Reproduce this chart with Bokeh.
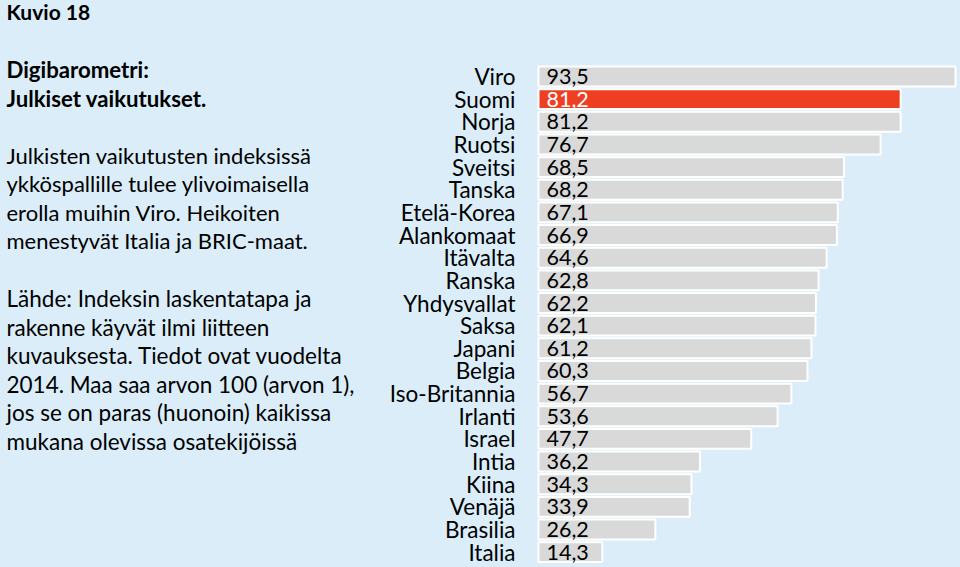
from bokeh.plotting import figure
from bokeh.models import ColumnDataSource, Range1d, Label, GlobalInlineStyleSheet
from bokeh.core.properties import value
from bokeh.embed import file_html
from bokeh.resources import INLINE

countries = ["Viro", "Suomi", "Norja", "Ruotsi", "Sveitsi", "Tanska", "Etelä-Korea",
             "Alankomaat", "Itävalta", "Ranska", "Yhdysvallat", "Saksa", "Japani",
             "Belgia", "Iso-Britannia", "Irlanti", "Israel", "Intia", "Kiina",
             "Venäjä", "Brasilia", "Italia"]
values = [93.5, 81.2, 81.2, 76.7, 68.5, 68.2, 67.1, 66.9, 64.6, 62.8, 62.2, 62.1,
          61.2, 60.3, 56.7, 53.6, 47.7, 36.2, 34.3, 33.9, 26.2, 14.3]
highlight = "Suomi"

title_text = "Kuvio 18"
subtitle_lines = ["Digibarometri:", "Julkiset vaikutukset."]
para1_lines = ["Julkisten vaikutusten indeksissä",
               "ykköspallille tulee ylivoimaisella",
               "erolla muihin Viro. Heikoiten",
               "menestyvät Italia ja BRIC-maat."]
para2_lines = ["Lähde: Indeksin laskentatapa ja",
               "rakenne käyvät ilmi liitteen",
               "kuvauksesta. Tiedot ovat vuodelta",
               "2014. Maa saa arvon 100 (arvon 1),",
               "jos se on paras (huonoin) kaikissa",
               "mukana olevissa osatekijöissä"]

BG = "#daedf8"
W, H = 960, 567
FONT = "Lato"

s = 4.46        # px per unit
x0 = 538        # px of zero
row = 22.65
first = 76

src = ColumnDataSource(dict(
    y=list(range(len(countries))),
    name=countries,
    value=values,
    label=[f"{v:.1f}".replace(".", ",") for v in values],
    color=["#ee3f23" if c == highlight else "#d9d9d9" for c in countries],
    tcolor=["white" if c == highlight else "black" for c in countries],
))

p = figure(width=W, height=H,
           x_range=Range1d(-x0 / s, (W - x0) / s),
           y_range=Range1d((H - first) / row, -first / row),
           output_backend="svg", toolbar_location=None, min_border=0,
           x_axis_location=None, y_axis_location=None,
           background_fill_color=BG, border_fill_color=BG, outline_line_color=None)
p.grid.visible = False
p.stylesheets = [GlobalInlineStyleSheet(
    css=f"html,body{{margin:0;padding:0;background:{BG};overflow:hidden;}}")]

p.hbar(y="y", left=0, right="value", height=0.88, fill_color="color",
       line_color="white", line_width=2, source=src)
p.text(x=0, y="y", text="name", x_offset=-23, text_align="right",
       text_baseline="middle", text_font=value(FONT), text_font_size="22.5px",
       text_color="black", source=src)
p.text(x=0, y="y", text="label", x_offset=8, text_align="left",
       text_baseline="middle", text_font=value(FONT), text_font_size="21.5px",
       text_color="tcolor", source=src)


def add_line(txt, pagey, size, bold=False):
    p.add_layout(Label(x=6, y=H - pagey, x_units="screen", y_units="screen",
                       text=txt, text_baseline="middle", text_font=FONT,
                       text_font_size=size, text_color="black",
                       text_font_style="bold" if bold else "normal"))


add_line(title_text, 11, "21px", True)
for i, t in enumerate(subtitle_lines):
    add_line(t, 69 + 28.5 * i, "22.2px", True)
for i, t in enumerate(para1_lines):
    add_line(t, 155 + 28.4 * i, "22px")
for i, t in enumerate(para2_lines):
    add_line(t, 298 + 28.6 * i, "22.5px")

open("out.html", "w").write(file_html(p, INLINE))
